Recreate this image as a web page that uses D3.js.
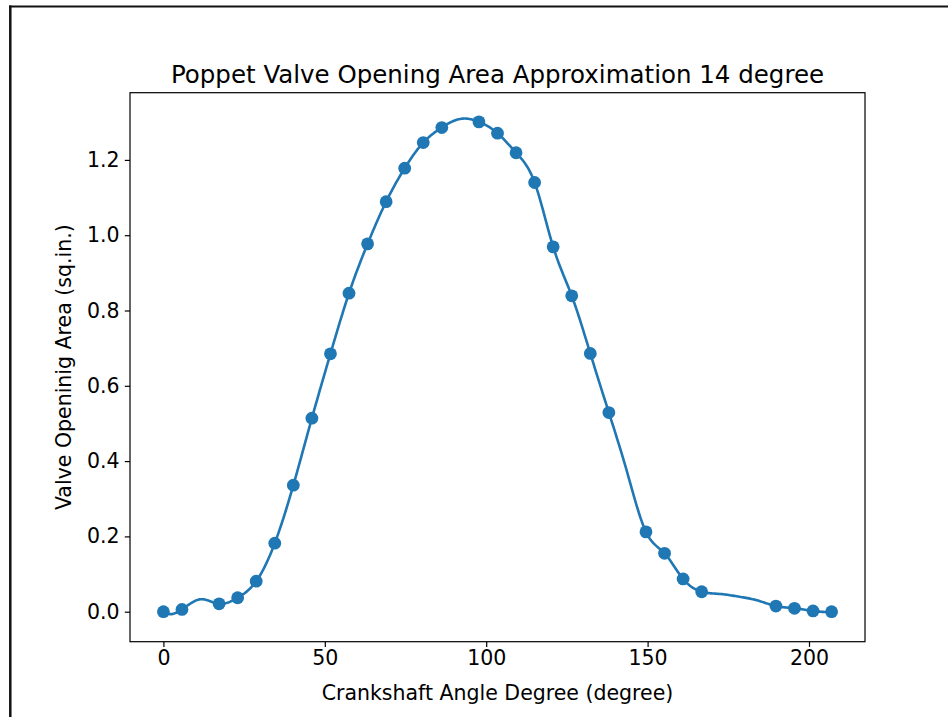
<!DOCTYPE html>
<html>
<head>
<meta charset="utf-8">
<script src="https://cdn.jsdelivr.net/npm/d3@7/dist/d3.min.js"></script>
<style>
  html, body { margin: 0; padding: 0; background: #fff; }
  svg { display: block; }
  text { font-family: "DejaVu Sans", sans-serif; fill: #000; }
</style>
</head>
<body>
<svg id="chart" width="948" height="717"></svg>
<script>
// Crank angle (degree) of each marked point
const angles = [0, 5.75, 17.25, 23, 28.75, 34.5, 40.25, 46, 51.75, 57.5, 63.25, 69,
  74.75, 80.5, 86.25, 97.75, 103.5, 109.25, 115, 120.75, 126.5, 132.25, 138,
  149.5, 155.25, 161, 166.75, 189.75, 195.5, 201.25, 207];
// Valve opening area (sq.in.) at each marked angle
const areas = [0, 0.006, 0.021, 0.037, 0.081, 0.182, 0.336, 0.514, 0.685, 0.846, 0.977, 1.089,
  1.178, 1.246, 1.286, 1.301, 1.271, 1.219, 1.140, 0.969, 0.839, 0.686, 0.529,
  0.212, 0.155, 0.087, 0.053, 0.015, 0.009, 0.002, 0];
// Further samples on the same 5.75-degree grid that the curve passes through (unmarked)
const extraAngles = [11.5, 92, 143.75, 172.5, 178.25, 184];
const extraAreas = [0.033, 1.309, 0.368, 0.047, 0.040, 0.030];

const xTicks = [0, 50, 100, 150, 200];
const yTicks = [0.0, 0.2, 0.4, 0.6, 0.8, 1.0, 1.2];

const titleText = "Poppet Valve Opening Area Approximation 14 degree";
const xLabel = "Crankshaft Angle Degree (degree)";
const yLabel = "Valve Openinig Area (sq.in.)";

const blue = "#1f77b4";
const svg = d3.select("#chart");

// page frame (top and left edges)
svg.append("line").attr("x1", 9).attr("x2", 948).attr("y1", 6.5).attr("y2", 6.5)
  .attr("stroke", "#111").attr("stroke-width", 2);
svg.append("line").attr("x1", 10.3).attr("x2", 10.3).attr("y1", 5.5).attr("y2", 717)
  .attr("stroke", "#111").attr("stroke-width", 2.5);

const plot = { left: 130, right: 865, top: 92.7, bottom: 641.7 };

const x = d3.scaleLinear().domain([-10.35, 217.35]).range([plot.left, plot.right]);
const y = d3.scaleLinear().domain([-0.0797, 1.3785]).range([plot.bottom, plot.top]);

// Cubic spline (not-a-knot ends) through all samples
function cubicSpline(xs, ys) {
  const n = xs.length;
  const h = [];
  for (let i = 0; i < n - 1; i++) h.push(xs[i + 1] - xs[i]);
  const A = Array.from({ length: n }, () => new Array(n).fill(0));
  const b = new Array(n).fill(0);
  A[0][0] = h[1]; A[0][1] = -(h[0] + h[1]); A[0][2] = h[0];
  for (let i = 1; i < n - 1; i++) {
    A[i][i - 1] = h[i - 1];
    A[i][i] = 2 * (h[i - 1] + h[i]);
    A[i][i + 1] = h[i];
    b[i] = 6 * ((ys[i + 1] - ys[i]) / h[i] - (ys[i] - ys[i - 1]) / h[i - 1]);
  }
  A[n - 1][n - 3] = h[n - 2]; A[n - 1][n - 2] = -(h[n - 3] + h[n - 2]); A[n - 1][n - 1] = h[n - 3];
  // Gaussian elimination with partial pivoting
  for (let c = 0; c < n; c++) {
    let p = c;
    for (let r = c + 1; r < n; r++) if (Math.abs(A[r][c]) > Math.abs(A[p][c])) p = r;
    [A[c], A[p]] = [A[p], A[c]]; [b[c], b[p]] = [b[p], b[c]];
    for (let r = c + 1; r < n; r++) {
      const f = A[r][c] / A[c][c];
      if (f === 0) continue;
      for (let k = c; k < n; k++) A[r][k] -= f * A[c][k];
      b[r] -= f * b[c];
    }
  }
  const M = new Array(n).fill(0);
  for (let r = n - 1; r >= 0; r--) {
    let s = b[r];
    for (let k = r + 1; k < n; k++) s -= A[r][k] * M[k];
    M[r] = s / A[r][r];
  }
  return function (v) {
    let i = d3.bisectRight(xs, v) - 1;
    i = Math.max(0, Math.min(n - 2, i));
    const hi = h[i], a = xs[i + 1] - v, c = v - xs[i];
    return M[i] * a * a * a / (6 * hi) + M[i + 1] * c * c * c / (6 * hi)
      + (ys[i] / hi - M[i] * hi / 6) * a + (ys[i + 1] / hi - M[i + 1] * hi / 6) * c;
  };
}

const knots = angles.map((a, i) => [a, areas[i]])
  .concat(extraAngles.map((a, i) => [a, extraAreas[i]]))
  .sort((p, q) => p[0] - q[0]);
const spline = cubicSpline(knots.map(d => d[0]), knots.map(d => d[1]));
const [x0, x1] = d3.extent(angles);
const curve = d3.range(0, 501).map(k => {
  const v = x0 + (x1 - x0) * k / 500;
  return [v, spline(v)];
});

svg.append("path")
  .datum(curve)
  .attr("fill", "none")
  .attr("stroke", blue)
  .attr("stroke-width", 2.6)
  .attr("d", d3.line().x(d => x(d[0])).y(d => y(d[1])));

svg.append("g").selectAll("circle")
  .data(angles.map((a, i) => [a, areas[i]]))
  .join("circle")
  .attr("cx", d => x(d[0]))
  .attr("cy", d => y(d[1]))
  .attr("r", 6.4)
  .attr("fill", blue);

// axes
const xAxis = svg.append("g")
  .attr("transform", `translate(0,${plot.bottom})`)
  .call(d3.axisBottom(x).tickValues(xTicks).tickFormat(d3.format("d")).tickSize(5.2).tickPadding(4));
const yAxis = svg.append("g")
  .attr("transform", `translate(${plot.left},0)`)
  .call(d3.axisLeft(y).tickValues(yTicks).tickFormat(d3.format(".1f")).tickSize(5.2).tickPadding(5.2));

[xAxis, yAxis].forEach(g => {
  g.select(".domain").remove();
  g.selectAll(".tick line").attr("stroke", "#000").attr("stroke-width", 1.2);
  g.selectAll(".tick text").attr("font-family", "DejaVu Sans").attr("font-size", 20.5).attr("fill", "#000");
});

// frame around the plot area
svg.append("rect")
  .attr("x", plot.left).attr("y", plot.top)
  .attr("width", plot.right - plot.left).attr("height", plot.bottom - plot.top)
  .attr("fill", "none").attr("stroke", "#000").attr("stroke-width", 1.2);

svg.append("text")
  .attr("x", (plot.left + plot.right) / 2).attr("y", 83)
  .attr("text-anchor", "middle").attr("font-size", 24.5)
  .text(titleText);

svg.append("text")
  .attr("x", (plot.left + plot.right) / 2).attr("y", 700)
  .attr("text-anchor", "middle").attr("font-size", 20.5)
  .text(xLabel);

svg.append("text")
  .attr("transform", `translate(71,${(plot.top + plot.bottom) / 2}) rotate(-90)`)
  .attr("text-anchor", "middle").attr("font-size", 20.5)
  .text(yLabel);
</script>
</body>
</html>
